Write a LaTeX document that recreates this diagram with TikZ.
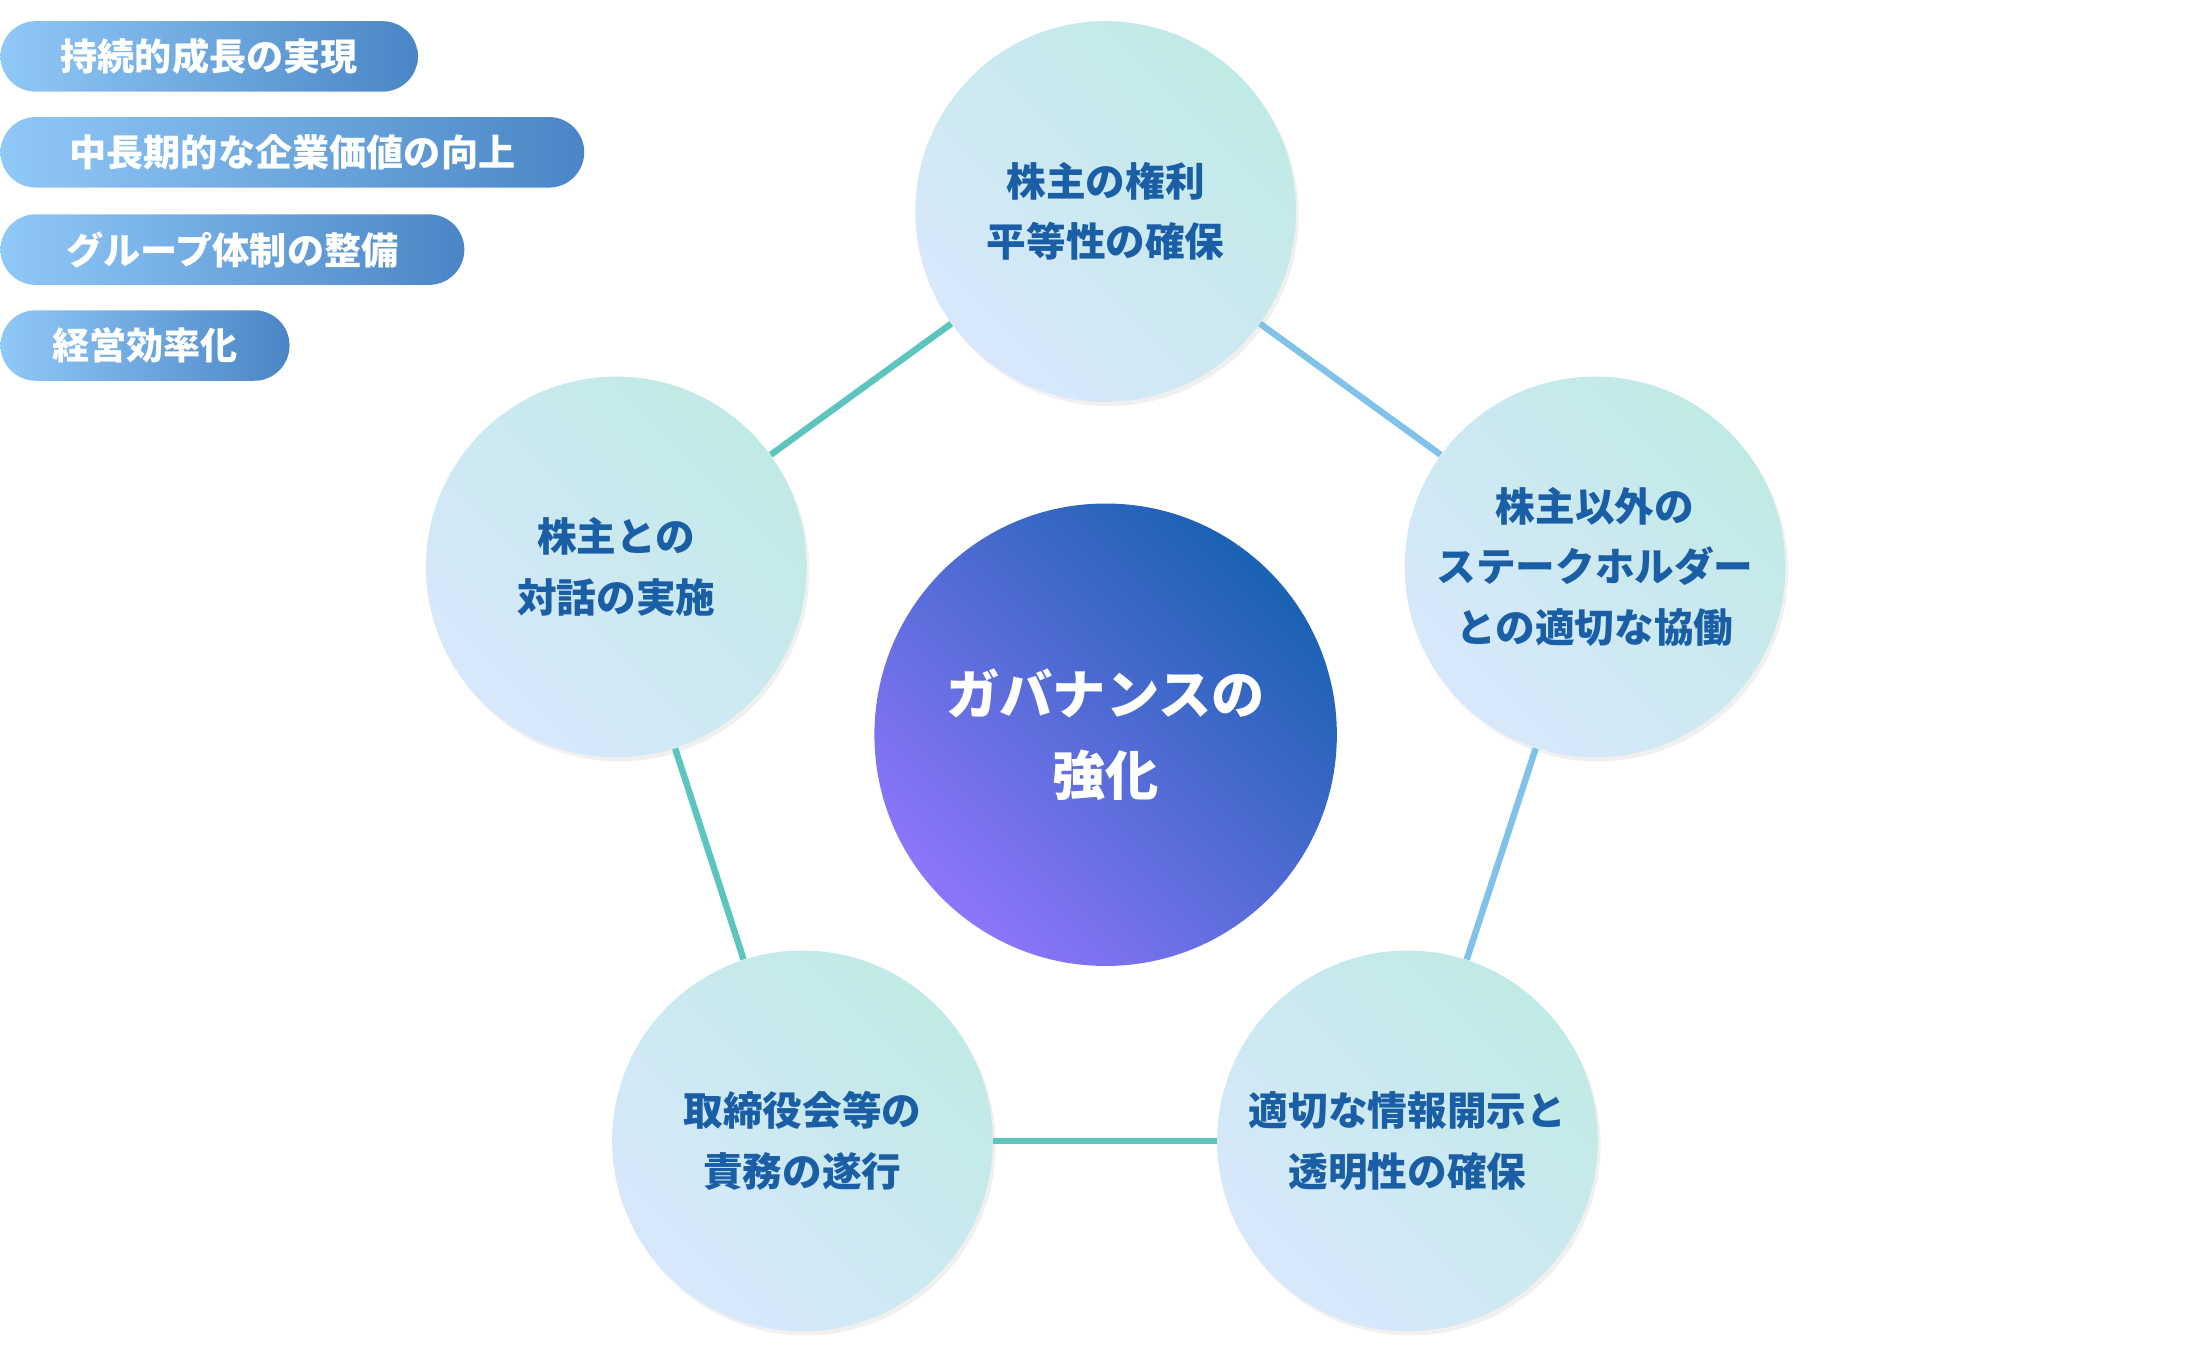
\documentclass[tikz,border=0pt]{standalone}
\usepackage{fontspec}
\setmainfont{Noto Sans CJK JP}
\usetikzlibrary{positioning,shadows}
\definecolor{pillL}{HTML}{90C8F7}
\definecolor{pillR}{HTML}{4A86C6}
\definecolor{topicA}{HTML}{C0EAE5}
\definecolor{topicB}{HTML}{D8E8FC}
\definecolor{topicText}{HTML}{1A5EA6}
\definecolor{coreA}{HTML}{1A62B2}
\definecolor{coreB}{HTML}{8D75FA}
\definecolor{linkTeal}{HTML}{5CC5BF}
\definecolor{linkBlue}{HTML}{80C2E9}
\tikzset{
  pill/.style={rounded corners=0.5cm, minimum height=1cm, anchor=west, inner sep=0pt,
    left color=pillL, right color=pillR, text=white, font=\fontsize{15}{18}\selectfont\bfseries},
  topic/.style={circle, minimum size=5.4cm, inner sep=0pt, align=center,
    left color=topicA, right color=topicB, shading angle=-45,
    drop shadow={opacity=0.12, shadow xshift=0.04cm, shadow yshift=-0.06cm},
    text=topicText, font=\fontsize{16}{24.4}\selectfont\bfseries},
  core/.style={circle, minimum size=6.56cm, inner sep=0pt, align=center,
    left color=coreA, right color=coreB, shading angle=-45,
    text=white, font=\fontsize{21.5}{33}\selectfont\bfseries},
  link/.style={line width=2.6pt}
}
\begin{document}
\begin{tikzpicture}[x=0.02cm,y=-0.02cm]
    \useasboundingbox (0,0) rectangle (1560,956);
    % goals
    \node[pill, minimum width=5.92cm] (g1) at (0,40) {持続的成長の実現};
    \node[pill, minimum width=8.28cm] (g2) at (0,108) {中長期的な企業価値の向上};
    \node[pill, minimum width=6.58cm] (g3) at (0,177) {グループ体制の整備};
    \node[pill, minimum width=4.10cm] (g4) at (0,245) {経営効率化};

    % pillars
    \node[topic] (rights) at (784,150) {株主の権利\\平等性の確保};
    \node[topic] (others) at (1131,402) {株主以外の\\ステークホルダー\\との適切な協働};
    \node[topic] (disclose) at (998,809) {適切な情報開示と\\透明性の確保};
    \node[topic] (board) at (569,809) {取締役会等の\\責務の遂行};
    \node[topic] (dialog) at (437,402) {株主との\\対話の実施};

    \node[core] (gov) at (784,521) {ガバナンスの\\強化};

    \begin{scope}[on background layer/.try]
    \end{scope}
    \draw[link, linkTeal] (dialog) -- (rights);
    \draw[link, linkBlue] (rights) -- (others);
    \draw[link, linkBlue] (others) -- (disclose);
    \draw[link, linkTeal] (disclose) -- (board);
    \draw[link, linkTeal] (board) -- (dialog);
\end{tikzpicture}
\end{document}
